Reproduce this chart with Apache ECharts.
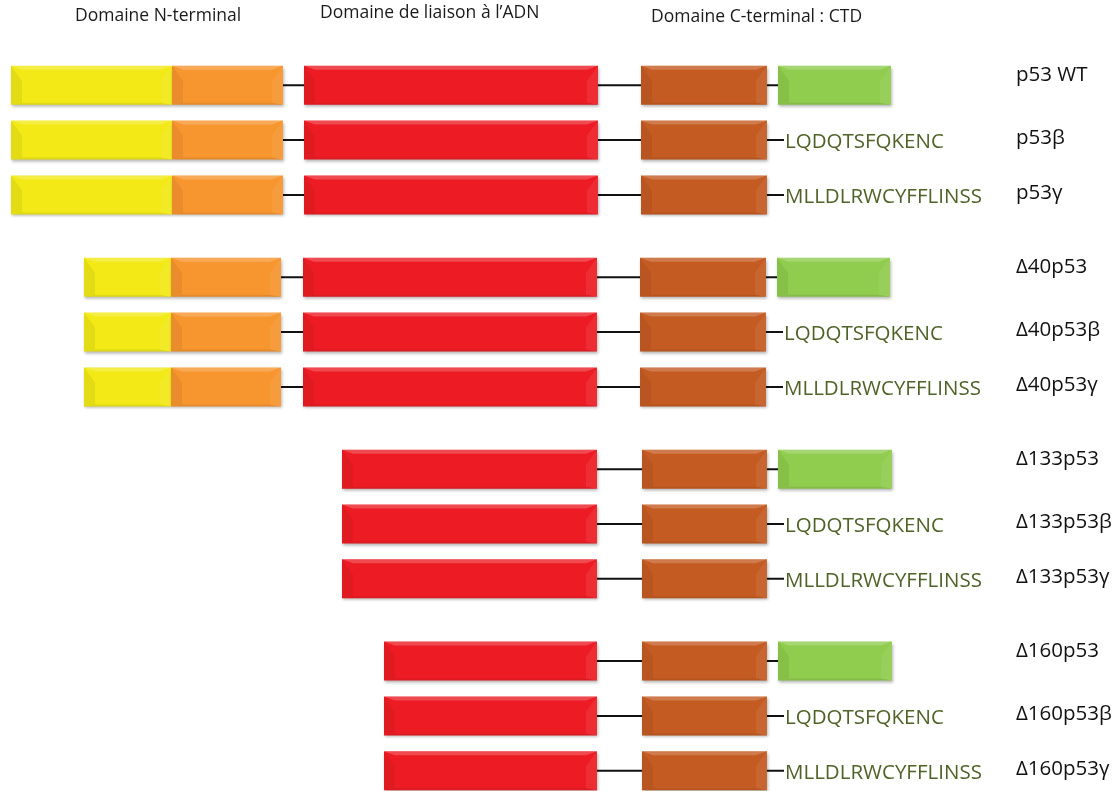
<!DOCTYPE html>
<html><head><meta charset="utf-8">
<script src="https://cdn.jsdelivr.net/npm/echarts@6/dist/echarts.min.js"></script>
<style>html,body{margin:0;padding:0;background:#fff}#c{width:1120px;height:791px}</style>
</head><body><div id="c"></div>
<script>
// ---- data (schematic positions along the protein) ----
const isoforms = ['p53 WT','p53β','p53γ','Δ40p53','Δ40p53β','Δ40p53γ','Δ133p53','Δ133p53β','Δ133p53γ','Δ160p53','Δ160p53β','Δ160p53γ'];
const rowPos   = [0, 1, 2, 3.5, 4.5, 5.5, 7, 8, 9, 10.5, 11.5, 12.5];
const tadStart = [11, 11, 11, 84, 84, 84, null, null, null, null, null, null];
const tadEnd   = [172, 172, 172, 171, 171, 171, null, null, null, null, null, null];
const prdEnd   = [283, 283, 283, 281, 281, 281, null, null, null, null, null, null];
const dbdStart = [304, 304, 304, 303, 303, 303, 342, 342, 342, 384, 384, 384];
const dbdEnd   = [598, 598, 598, 597, 597, 597, 597, 597, 597, 597, 597, 597];
const oligoStart = [641, 641, 641, 640, 640, 640, 642, 642, 642, 642, 642, 642];
const oligoEnd   = [767, 767, 767, 766, 766, 766, 767, 767, 767, 767, 767, 767];
const ctdStart = [778, null, null, 777, null, null, 778, null, null, 778, null, null];
const ctdEnd   = [891, null, null, 890, null, null, 892, null, null, 892, null, null];
const tails = ['', 'LQDQTSFQKENC', 'MLLDLRWCYFFLINSS', '', 'LQDQTSFQKENC', 'MLLDLRWCYFFLINSS', '', 'LQDQTSFQKENC', 'MLLDLRWCYFFLINSS', '', 'LQDQTSFQKENC', 'MLLDLRWCYFFLINSS'];
const headers = ['Domaine N-terminal', 'Domaine de liaison à l’ADN', 'Domaine C-terminal : CTD'];

// ---- styles ----
const FONT = '"Open Sans", "DejaVu Sans", sans-serif';
const BAR_H = 39;
const LABEL_X = 1016;
const domainDefs = [
  {name: 'TAD', start: tadStart, end: tadEnd, color: '#F2E916'},
  {name: 'PRD', start: tadEnd.map((v, i) => prdEnd[i] == null ? null : v), end: prdEnd, color: '#F7952F'},
  {name: 'DBD', start: dbdStart, end: dbdEnd, color: '#ED1C24'},
  {name: 'OD', start: oligoStart, end: oligoEnd, color: '#C45B22'},
  {name: 'CTD', start: ctdStart, end: ctdEnd, color: '#90CC4E'}
];

function bevelBar(x, y, w, h, base) {
  const b = Math.min(11, w / 2);
  const t = 4;
  return {
    type: 'group',
    children: [
      {type: 'rect', shape: {x: x, y: y, width: w, height: h},
        style: {fill: base, shadowBlur: 3, shadowOffsetX: 1, shadowOffsetY: 2, shadowColor: 'rgba(0,0,0,0.3)'}},
      {type: 'polygon', shape: {points: [[x, y], [x + w, y], [x + w - b, y + t], [x + b, y + t]]},
        style: {fill: 'rgba(255,255,255,0.2)'}},
      {type: 'polygon', shape: {points: [[x, y], [x + b, y + t + b], [x + b, y + h - 2], [x, y + h]]},
        style: {fill: 'rgba(0,0,0,0.06)'}},
      {type: 'polygon', shape: {points: [[x + w, y], [x + w - b, y + t + b], [x + w - b, y + h - 2], [x + w, y + h]]},
        style: {fill: 'rgba(255,255,255,0.07)'}},
      {type: 'polygon', shape: {points: [[x, y + h], [x + w, y + h], [x + w - b, y + h - 2], [x + b, y + h - 2]]},
        style: {fill: 'rgba(0,0,0,0.07)'}}
    ]
  };
}

// backbone line per isoform: from first domain start to last element end
const backboneData = isoforms.map((n, i) => {
  const s = tadStart[i] != null ? tadStart[i] : dbdStart[i];
  const e = ctdEnd[i] != null ? ctdEnd[i] : oligoEnd[i];
  return [s, e, rowPos[i], tails[i] ? 1 : 0];
});

const series = [];
series.push({
  type: 'custom', name: 'backbone', z: 1, silent: true, clip: false,
  data: backboneData,
  renderItem: function (params, api) {
    const a = api.coord([api.value(0), api.value(2)]);
    const b = api.coord([api.value(1), api.value(2)]);
    const extra = api.value(3) ? 17 : 0;
    return {type: 'line', shape: {x1: a[0], y1: a[1], x2: b[0] + extra, y2: b[1]},
      style: {stroke: '#111', lineWidth: 2}};
  }
});

domainDefs.forEach(function (d) {
  const data = [];
  isoforms.forEach(function (n, i) {
    if (d.start[i] != null && d.end[i] != null) data.push([d.start[i], d.end[i], rowPos[i]]);
  });
  series.push({
    type: 'custom', name: d.name, z: 2, silent: true, clip: false,
    data: data,
    renderItem: function (params, api) {
      const a = api.coord([api.value(0), api.value(2)]);
      const b = api.coord([api.value(1), api.value(2)]);
      return bevelBar(a[0], a[1] - BAR_H / 2, b[0] - a[0], BAR_H, d.color);
    }
  });
});

// C-terminal alternative sequences
const tailData = [];
isoforms.forEach(function (n, i) { if (tails[i]) tailData.push([oligoEnd[i], rowPos[i], i]); });
series.push({
  type: 'custom', name: 'tails', z: 3, silent: true, clip: false,
  data: tailData,
  renderItem: function (params, api) {
    const p = api.coord([api.value(0), api.value(1)]);
    return {type: 'text', x: p[0] + 18, y: p[1] + 2,
      style: {text: tails[api.value(2)], fill: '#4F6228', font: '20.5px ' + FONT, textAlign: 'left', textVerticalAlign: 'middle'}};
  }
});

// isoform names
series.push({
  type: 'custom', name: 'labels', z: 3, silent: true, clip: false,
  data: isoforms.map((n, i) => [LABEL_X, rowPos[i], i]),
  renderItem: function (params, api) {
    const i = api.value(2);
    const p = api.coord([api.value(0), api.value(1)]);
    const dy = tails[i] ? -2 : -10;
    return {type: 'text', x: p[0], y: p[1] + dy,
      style: {text: isoforms[i], fill: '#111', font: '20.5px ' + FONT, textAlign: 'left', textVerticalAlign: 'middle'}};
  }
});

const chart = echarts.init(document.getElementById('c'));
chart.setOption({
  backgroundColor: '#fff',
  animation: false,
  grid: {left: 0, right: 0, top: 3, bottom: 1},
  xAxis: {type: 'value', min: 0, max: 1120, show: false},
  yAxis: {type: 'value', min: -1.5, max: 12.85, inverse: true, show: false},
  graphic: [
    {type: 'text', left: 75, top: 7, style: {text: headers[0], fill: '#1a1a1a', font: '17.5px ' + FONT}},
    {type: 'text', left: 320, top: 4, style: {text: headers[1], fill: '#1a1a1a', font: '17.5px ' + FONT}},
    {type: 'text', left: 651, top: 8, style: {text: headers[2], fill: '#1a1a1a', font: '17.5px ' + FONT}}
  ],
  series: series
});
</script>
</body></html>
